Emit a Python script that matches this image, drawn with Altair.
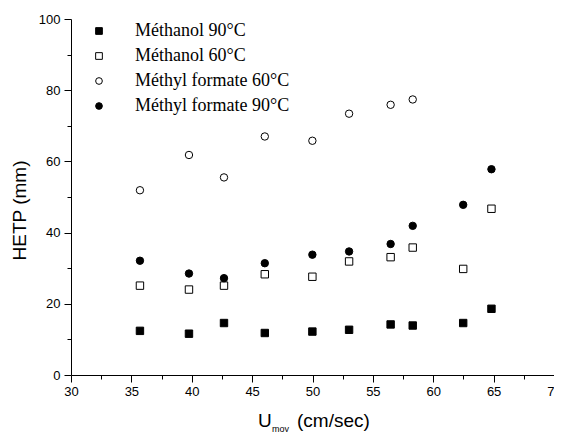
import altair as alt
import pandas as pd

# ---- data ----
u_vals = [35.71, 39.77, 42.67, 46.05, 49.99, 53.03, 56.47, 58.30, 62.48, 64.82]
methanol_90 = [12.4, 11.6, 14.6, 11.8, 12.2, 12.7, 14.2, 13.9, 14.6, 18.6]
methanol_60 = [25.1, 24.0, 25.1, 28.3, 27.6, 31.9, 33.1, 35.8, 29.8, 46.7]
mf_60 = [51.9, 61.8, 55.5, 67.0, 65.8, 73.4, 75.9, 77.4]
mf_90 = [32.1, 28.5, 27.2, 31.4, 33.8, 34.7, 36.8, 41.9, 47.8, 57.8]

series_names = ["Méthanol 90°C", "Méthanol 60°C", "Méthyl formate 60°C", "Méthyl formate 90°C"]
series_values = [methanol_90, methanol_60, mf_60, mf_90]

x_major = [30, 35, 40, 45, 50, 55, 60, 65, 70]
x_minor = [32.5, 37.5, 42.5, 47.5, 52.5, 57.5, 62.5, 67.5]
y_major = [0, 20, 40, 60, 80, 100]
y_minor = [10, 30, 50, 70, 90]

rows = []
for name, vals in zip(series_names, series_values):
    for u, h in zip(u_vals, vals):
        rows.append({"U": u, "HETP": h, "series": name})
df = pd.DataFrame(rows)

x_scale = alt.Scale(domain=[30, 70], nice=False, zero=False)
y_scale = alt.Scale(domain=[0, 100], nice=False)

legend = alt.Legend(
    title=None, orient="none", legendX=19, legendY=3, padding=0,
    rowPadding=7, labelFont="Liberation Serif", labelFontSize=18,
    labelColor="black", labelOffset=27, symbolSize=45,
    symbolStrokeColor="black", symbolStrokeWidth=1,
)

points = alt.Chart(df).mark_point(
    filled=True, strokeWidth=1, size=55, opacity=1
).encode(
    x=alt.X("U:Q", scale=x_scale,
            axis=alt.Axis(values=x_major, title=None, tickSize=7, grid=False,
                          orient="bottom", labelFontSize=13, labelPadding=3,
                          labelFlush=False)),
    y=alt.Y("HETP:Q", scale=y_scale,
            axis=alt.Axis(values=y_major, title="HETP (mm)", tickSize=7, grid=False,
                          orient="left", labelFontSize=13, labelPadding=4,
                          titleFontSize=19, titleFont="Liberation Sans",
                          titleFontWeight="normal", titleColor="black",
                          titleAngle=-90, titleBaseline="alphabetic",
                          titleAlign="center", titleX=-46, titleY=191)),
    shape=alt.Shape("series:N", scale=alt.Scale(domain=series_names,
                    range=["square", "square", "circle", "circle"]), legend=legend),
    fill=alt.Fill("series:N", scale=alt.Scale(domain=series_names,
                  range=["black", "white", "white", "black"]), legend=legend),
    stroke=alt.Stroke("series:N", scale=alt.Scale(domain=series_names,
                      range=["black", "black", "black", "black"]), legend=legend),
)

minor = alt.Chart(df).mark_point(opacity=0).encode(
    x=alt.X("U:Q", scale=x_scale,
            axis=alt.Axis(values=x_minor, labels=False, domain=False, tickSize=4,
                          grid=False, title=None, orient="bottom")),
    y=alt.Y("HETP:Q", scale=y_scale,
            axis=alt.Axis(values=y_minor, labels=False, domain=False, tickSize=4,
                          grid=False, title=None, orient="left")),
)

one = pd.DataFrame({"a": [0]})
t_u = alt.Chart(one).mark_text(text="U", font="Liberation Sans", fontSize=19,
                               align="left", baseline="alphabetic", color="black"
                               ).encode(x=alt.value(187), y=alt.value(408))
t_moy = alt.Chart(one).mark_text(text="moy", font="Liberation Sans", fontSize=9,
                                 align="left", baseline="alphabetic", color="black"
                                 ).encode(x=alt.value(201), y=alt.value(413))
t_rest = alt.Chart(one).mark_text(text="(cm/sec)", font="Liberation Sans", fontSize=19,
                                  align="left", baseline="alphabetic", color="black"
                                  ).encode(x=alt.value(226), y=alt.value(408))

chart = alt.layer(minor, points, t_u, t_moy, t_rest).resolve_axis(
    x="independent", y="independent"
).properties(
    width=483, height=356, autosize="none",
    padding={"left": 63, "top": 11, "right": 0, "bottom": 57},
).configure_view(stroke=None).configure_axis(
    domainColor="black", tickColor="black", labelColor="black",
    labelFont="Liberation Sans", domainWidth=1, tickWidth=1,
)

chart.save("out.html", embed_options={"renderer": "svg", "actions": False})
